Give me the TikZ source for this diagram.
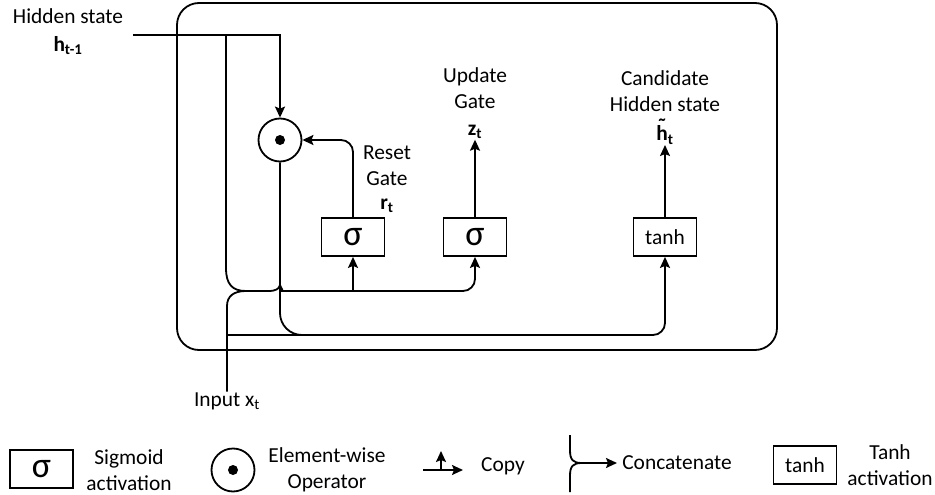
\documentclass[tikz,border=0pt]{standalone}
\usepackage{fontspec}
\setmainfont{Carlito}
\usetikzlibrary{arrows.meta, positioning, calc}

\newcommand{\htilde}{\ooalign{h\cr\hidewidth\raisebox{0.34em}{˜}\hidewidth\cr}}

\begin{document}
\begin{tikzpicture}[x=1pt, y=-1pt, >={Stealth[length=11pt, width=10pt, inset=2pt]},
      line width=1.8pt, font=\fontsize{21.4}{26}\selectfont,
      gate/.style={draw, minimum width=63pt, minimum height=38pt, inner sep=0pt},
      sig/.style={gate, font=\fontsize{36}{36}\selectfont},
      mulop/.style={draw, circle, minimum size=43pt, inner sep=0pt,
                    path picture={\fill (path picture bounding box.center) circle (5pt);}},
      lbl/.style={align=center, inner sep=0pt}]

    \useasboundingbox (0,0) rectangle (935,495);

    % cell
    \draw[rounded corners=22pt] (177,3) rectangle (777,350);

    \node[lbl] (hid) at (68,32) {Hidden state\\[2pt]\textbf{h\textsubscript{t-1}}};
    \node[mulop] (mul) at (280,140) {};
    \node[sig] (sr) at (353,237) {σ};
    \node[sig] (sz) at (475,237) {σ};
    \node[gate] (th) at (665,237) {tanh};

    \node[lbl] (rt) at (387,206) {\textbf{r\textsubscript{t}}};
    \node[lbl, above=12pt of rt] (rlbl) {Reset\\Gate};
    \node[lbl] (zt) at (475,132) {\textbf{z\textsubscript{t}}};
    \node[lbl, above=15pt of zt] (zlbl) {Update\\Gate};
    \node[lbl] (ht) at (665,135) {\textbf{\htilde\textsubscript{t}}};
    \node[lbl, above=12pt of ht] (hlbl) {Candidate\\Hidden state};
    \node[lbl] (inp) at (227,401) {Input x\textsubscript{t}};

    \coordinate (hin) at (133,35);
    \coordinate (hc) at (226,35);
    \coordinate (cusp) at (280,285);
    \coordinate (cat) at (292,291);
    \coordinate (tin) at (500,335);

    % hidden state and its copy
    \draw[->] (hin) -| (mul.north);
    \draw (hc) -- (226,268) .. controls (226,284) and (232,291) .. (246,291)
          -- (268,291) .. controls (276,291) and (279,289) .. (cusp);
    \draw (inp.north) -- (227,306) .. controls (227,296) and (234,291) .. (246,291);

    % concatenation into the gates
    \draw[->, rounded corners=12pt] (cusp) .. controls (281,289) and (285,291) .. (cat) -| (sz.south);
    \draw[->] (sr.south |- cat) -- (sr.south);
    \draw[->, rounded corners=12pt] (sr.north) |- (mul.east);
    \draw[->] (sz.north) -- (zt.south);

    % candidate
    \draw[rounded corners=22pt] (mul.south) |- (tin);
    \draw[->, rounded corners=12pt] (inp.north |- tin) -| (th.south);
    \draw[->] (th.north) -- (ht.south);

    % legend
    \node[sig] (lsig) at (41.5,469) {σ};
    \node[lbl] (lsigt) at (129,470) {Sigmoid\\activation};
    \node[mulop] (lmul) at (233,470) {};
    \node[lbl] (lmult) at (327,470) {Element-wise\\Operator};

    \coordinate (cpa) at (423,470);
    \coordinate (cpb) at (463,470);
    \coordinate (cpc) at (441,451);
    \draw[->] (cpa) -- (cpb);
    \draw[->] (cpc |- cpa) -- (cpc);
    \node[lbl] (lcp) at (503,466) {Copy};

    \coordinate (cc) at (582,463);
    \coordinate (cce) at (617,463);
    \draw (570,435) -- (570,450) .. controls (570,460) and (573,463) .. (cc);
    \draw (570,492) -- (570,476) .. controls (570,466) and (573,463) .. (cc);
    \draw[->] (cc) -- (cce);
    \node[lbl] (lcc) at (677,463) {Concatenate};

    \node[gate] (lth) at (805,465) {tanh};
    \node[lbl] (ltht) at (890,465) {Tanh\\activation};
  \end{tikzpicture}
\end{document}
